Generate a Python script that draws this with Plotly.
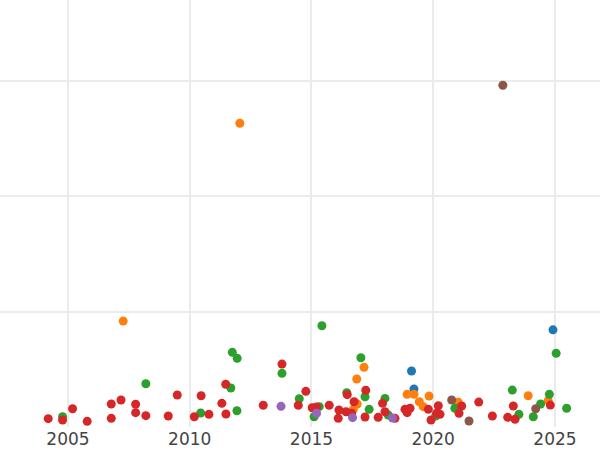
import plotly.graph_objects as go

# category colours (D3 palette)
colors = {
    "blue": "#1f77b4",
    "orange": "#ff7f0e",
    "green": "#2ca02c",
    "red": "#d62728",
    "purple": "#9467bd",
    "brown": "#8c564b",
}

blue_year = [2019.11, 2019.21, 2024.92]
blue_value = [48.5, 32.9, 84.2]

orange_year = [2007.27, 2012.06, 2016.86, 2017.16, 2016.88, 2016.72, 2018.93,
               2019.21, 2019.43, 2019.59, 2019.83, 2021.03, 2023.90, 2024.72]
orange_value = [91.8, 263.2, 41.6, 51.7, 19.9, 15.3, 28.3,
                28.3, 21.9, 17.6, 26.8, 21.4, 27.1, 22.8]

green_year = [2004.78, 2008.20, 2010.45, 2011.69, 2011.75, 2011.95, 2011.94,
              2013.79, 2014.50, 2015.11, 2015.32, 2015.43, 2016.45, 2017.03,
              2017.20, 2017.37, 2018.02, 2018.15, 2020.10, 2020.89, 2023.25,
              2023.52, 2024.11, 2024.41, 2024.77, 2025.05, 2025.48]
green_value = [8.9, 37.5, 12.1, 33.8, 64.7, 59.5, 14.1,
               46.5, 24.5, 8.9, 17.6, 87.7, 29.7, 60.0,
               26.2, 15.3, 24.8, 10.4, 9.5, 16.2, 32.0,
               11.0, 8.9, 19.9, 28.3, 63.8, 16.2]

red_year = [2004.19, 2004.78, 2005.19, 2005.79, 2006.78, 2006.78, 2007.18,
            2007.78, 2007.78, 2008.20, 2009.12, 2009.49, 2010.19, 2010.47,
            2010.79, 2011.32, 2011.48, 2011.49, 2013.02, 2013.79, 2014.46,
            2014.77, 2015.03, 2015.21, 2015.73, 2016.13, 2016.10, 2016.42,
            2016.47, 2016.75, 2016.65, 2017.23, 2017.20, 2017.74, 2017.92,
            2018.02, 2018.43, 2018.84, 2019.05, 2018.93, 2019.80, 2020.21,
            2020.14, 2019.91, 2020.28, 2021.17, 2021.06, 2021.87, 2022.43,
            2023.06, 2023.29, 2023.36, 2024.81]
red_value = [7.2, 6.1, 15.8, 4.9, 19.9, 7.5, 23.4,
             19.7, 12.4, 9.8, 9.5, 27.7, 8.9, 27.1,
             11.0, 20.5, 37.0, 11.3, 18.8, 54.5, 18.8,
             30.9, 16.7, 17.3, 18.8, 14.7, 7.5, 13.2,
             28.0, 21.9, 11.9, 31.8, 8.7, 8.4, 20.5,
             13.2, 7.5, 15.3, 16.2, 12.4, 15.3, 18.4,
             11.9, 6.1, 11.0, 18.2, 11.9, 21.6, 9.5,
             8.4, 18.2, 6.7, 19.0]

purple_year = [2013.75, 2015.21, 2016.69, 2018.33]
purple_value = [17.9, 11.9, 8.1, 7.8]

brown_year = [2022.86, 2020.76, 2021.47, 2024.21]
brown_value = [296.1, 23.4, 5.2, 15.8]

series = [
    ("blue", blue_year, blue_value),
    ("orange", orange_year, orange_value),
    ("green", green_year, green_value),
    ("red", red_year, red_value),
    ("purple", purple_year, purple_value),
    ("brown", brown_year, brown_value),
]

fig = go.Figure()
for name, xs, ys in series:
    fig.add_trace(go.Scatter(x=xs, y=ys, mode="markers", name=name,
                             marker=dict(color=colors[name], size=9,
                                         line=dict(width=0))))

fig.update_layout(
    width=600, height=450,
    margin=dict(l=0, r=0, t=0, b=23),
    showlegend=False,
    plot_bgcolor="white",
    paper_bgcolor="white",
    font=dict(family="DejaVu Sans", size=17, color="#444"),
    xaxis=dict(range=[2002.21, 2026.85], tickvals=[2005, 2010, 2015, 2020, 2025],
               showgrid=True, gridcolor="#ebebeb", gridwidth=1.5,
               zeroline=False, showline=False, ticks=""),
    yaxis=dict(range=[0, 370], dtick=100, showticklabels=False,
               showgrid=True, gridcolor="#ebebeb", gridwidth=2,
               zeroline=False, showline=False, ticks=""),
)

# drop the page's default body margin so the chart sits at the window's corner
fig.write_html("out.html", config={"displayModeBar": False},
               post_script="document.body.style.margin='0';")
